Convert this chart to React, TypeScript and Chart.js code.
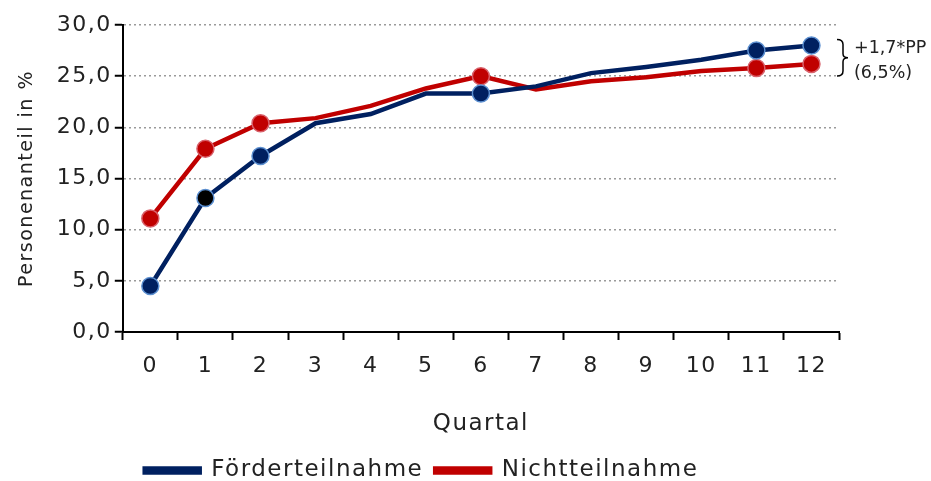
import React, { useEffect, useRef } from "react";
import { Chart, registerables } from "chart.js";

Chart.register(...registerables);

const quarters: string[] = ["0", "1", "2", "3", "4", "5", "6", "7", "8", "9", "10", "11", "12"];
const foerder: number[] = [4.5, 13.1, 17.2, 20.4, 21.3, 23.3, 23.3, 24.0, 25.3, 25.9, 26.6, 27.5, 28.0];
const nicht: number[] = [11.1, 17.9, 20.4, 20.9, 22.1, 23.8, 25.0, 23.7, 24.5, 24.9, 25.5, 25.8, 26.2];
const markedIdx: number[] = [0, 1, 2, 6, 11, 12];
const seriesNames: string[] = ["Förderteilnahme", "Nichtteilnahme"];
const annotationLines: string[] = ["+1,7*PP", "(6,5%)"];
const yTitle = "Personenanteil in %";
const xTitle = "Quartal";

const FONT = "'DejaVu Sans', sans-serif";
const NAVY = "#002060";
const RED = "#C00000";

const radii = quarters.map((_, i) => (markedIdx.includes(i) ? 8.5 : 0));
const navyFill = quarters.map((_, i) => (i === 1 ? "#000000" : NAVY));

const spacingPlugin = {
  id: "spacing",
  beforeLayout(chart: any) {
    chart.ctx.letterSpacing = "1.5px";
  },
  beforeDraw(chart: any) {
    chart.ctx.letterSpacing = "1.5px";
  },
};

const bracketPlugin = {
  id: "bracket",
  afterDraw(chart: any) {
    const { ctx, chartArea, scales } = chart;
    const y = scales.y;
    const last = foerder.length - 1;
    const yTop = y.getPixelForValue(foerder[last]) - 6;
    const yBot = y.getPixelForValue(nicht[last]) + 12;
    const yMid = (yTop + yBot) / 2;
    const x0 = chartArea.right - 2;
    const x1 = x0 + 6;
    const x2 = x0 + 11;
    ctx.save();
    ctx.letterSpacing = "0px";
    ctx.strokeStyle = "#000";
    ctx.lineWidth = 1.5;
    ctx.beginPath();
    ctx.moveTo(x0, yTop);
    ctx.quadraticCurveTo(x1, yTop, x1, yTop + 5);
    ctx.lineTo(x1, yMid - 4);
    ctx.quadraticCurveTo(x1, yMid, x2, yMid);
    ctx.quadraticCurveTo(x1, yMid, x1, yMid + 4);
    ctx.lineTo(x1, yBot - 5);
    ctx.quadraticCurveTo(x1, yBot, x0, yBot);
    ctx.stroke();
    ctx.fillStyle = "#222";
    ctx.font = `17.5px ${FONT}`;
    ctx.textAlign = "left";
    ctx.textBaseline = "middle";
    ctx.fillText(annotationLines[0], chartArea.right + 15, yMid - 9);
    ctx.fillText(annotationLines[1], chartArea.right + 15, yMid + 16);
    ctx.restore();
  },
};

export default function App() {
  const ref = useRef<HTMLCanvasElement | null>(null);
  useEffect(() => {
    document.body.style.margin = "0";
    const chart = new Chart(ref.current as HTMLCanvasElement, {
      type: "line",
      data: {
        labels: quarters,
        datasets: [
          {
            label: seriesNames[0],
            data: foerder,
            borderColor: NAVY,
            backgroundColor: NAVY,
            borderWidth: 4.5,
            pointRadius: radii,
            pointBackgroundColor: navyFill,
            pointBorderColor: "#5b8fd0",
            pointBorderWidth: 1.5,
            tension: 0,
          },
          {
            label: seriesNames[1],
            data: nicht,
            borderColor: RED,
            backgroundColor: RED,
            borderWidth: 4.5,
            pointRadius: radii,
            pointBackgroundColor: RED,
            pointBorderColor: "#d8606a",
            pointBorderWidth: 1.5,
            tension: 0,
          },
        ],
      },
      options: {
        animation: false,
        responsive: false,
        layout: { padding: { top: 25, right: 92, left: 4, bottom: -11 } },
        plugins: {
          tooltip: { enabled: false },
          legend: {
            position: "bottom",
            labels: {
              boxWidth: 55,
              boxHeight: 4,
              color: "#222",
              font: { family: FONT, size: 23 },
              padding: 12,
            },
          },
        },
        scales: {
          x: {
            offset: true,
            grid: {
              offset: true,
              drawOnChartArea: false,
              drawTicks: true,
              tickLength: 8,
              tickColor: "#000",
              tickWidth: 2,
            },
            border: { color: "#000", width: 2 },
            ticks: { color: "#222", font: { family: FONT, size: 22 }, padding: 13 },
            title: {
              display: true,
              text: xTitle,
              color: "#222",
              font: { family: FONT, size: 23 },
              padding: { top: 18, bottom: 9 },
            },
          },
          y: {
            min: 0,
            max: 30,
            ticks: {
              stepSize: 5,
              color: "#222",
              font: { family: FONT, size: 22 },
              padding: 3,
              callback: (v: any) => Number(v).toFixed(1).replace(".", ","),
            },
            grid: {
              color: "#9a9a9a",
              lineWidth: 1.5,
              tickColor: "#000",
              tickLength: 8,
              tickWidth: 2,
            } as any,
            border: { color: "#000", width: 2, dash: [2, 3] } as any,
            title: {
              display: true,
              text: yTitle,
              color: "#222",
              font: { family: FONT, size: 19 },
              padding: { top: 12, bottom: 15 },
            },
          },
        },
      },
      plugins: [spacingPlugin, bracketPlugin],
    });
    return () => chart.destroy();
  }, []);
  return (
    <div style={{ position: "absolute", left: 0, top: 0, width: 931, height: 481, background: "#fff" }}>
      <canvas ref={ref} width={931} height={481} style={{ width: 931, height: 481 }} />
    </div>
  );
}
